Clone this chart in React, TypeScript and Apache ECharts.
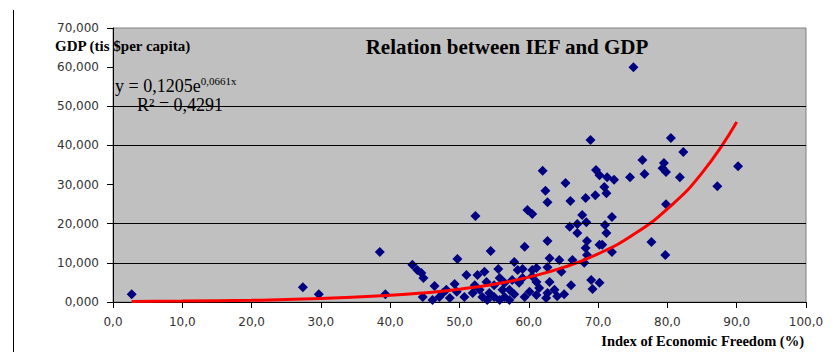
import React, { useEffect, useRef } from "react";
import * as echarts from "echarts";

// Index of Economic Freedom (%) for each country
const IEF: number[] = [
  2.7, 27.4, 29.7, 38.5, 39.3, 43.2, 43.9, 44.5, 44.8, 44.7,
  46.1, 46.4, 47.6, 48.1, 48.6, 49.3, 49.7, 51.0, 52.3, 51.9,
  52.6, 52.9, 53.3, 53.6, 53.9, 54.3, 54.5, 55.0, 55.6, 55.8,
  56.2, 56.5, 57.9, 57.6, 58.4, 59.1, 59.1, 58.6, 59.4, 59.4,
  59.8, 60.5, 60.1, 60.5, 60.5, 61.1, 61.1, 61.1, 62.0, 62.4,
  62.7, 62.7, 62.7, 63.0, 63.0, 62.5, 62.7, 64.4, 64.7, 64.1,
  65.3, 66.0, 65.9, 66.3, 66.1, 67.0, 67.0, 67.7, 68.2, 68.3,
  68.4, 68.2, 68.4, 68.0, 68.9, 69.0, 69.2, 69.6, 69.7, 70.2,
  70.2, 70.2, 70.6, 70.9, 71.2, 71.0, 71.2, 71.3, 72.0, 72.0,
  72.3, 74.6, 75.1, 76.4, 76.7, 77.7, 79.3, 79.5, 79.8, 79.8,
  79.7, 80.5, 81.8, 82.3, 87.2, 90.2,
  57.2, 50.7, 52.2, 54.0, 55.8, 57.2, 61.5, 63.7, 65.1, 49.6,
  47.1, 55.0, 56.5, 57.9,
];
// GDP (thousand $ per capita)
const GDP: number[] = [
  2.0, 3.8, 2.0, 12.8, 2.0, 9.5, 8.2, 7.4, 6.1, 1.3,
  0.5, 4.1, 2.3, 3.1, 1.0, 4.6, 11.0, 6.9, 22.0, 2.3,
  6.9, 3.1, 1.3, 7.7, 5.1, 2.3, 13.0, 1.3, 8.4, 6.1,
  3.1, 1.3, 2.0, 5.6, 8.2, 8.4, 6.1, 4.9, 14.1, 1.3,
  23.5, 22.5, 2.6, 8.2, 6.6, 8.7, 5.1, 1.8, 33.5, 28.4,
  25.5, 15.6, 8.9, 11.2, 5.1, 1.0, 2.3, 10.7, 7.7, 1.5,
  30.4, 25.8, 19.2, 10.7, 4.3, 19.9, 17.6, 22.2, 26.6, 20.4,
  15.6, 13.8, 12.0, 10.0, 41.4, 5.6, 3.3, 27.3, 33.7, 32.4,
  14.6, 4.9, 14.6, 29.4, 27.8, 19.7, 17.6, 31.9, 21.7, 12.8,
  31.2, 31.9, 60.0, 36.3, 32.7, 15.3, 34.2, 35.5, 33.2, 25.0,
  12.0, 41.9, 31.9, 38.3, 29.6, 34.7,
  3.1, 1.3, 4.3, 0.5, 0.5, 0.5, 3.6, 3.1, 2.0, 2.6,
  1.3, 4.3, 4.9, 10.2,
];

// Exponential trendline (y = 0,1205e^0,0661x)
const TREND_X: number[] = [2.7, 10, 20, 30, 40, 45, 50, 55, 60, 65, 70, 75, 80, 85, 90];
const TREND_Y: number[] = [0.14, 0.23, 0.45, 0.88, 1.7, 2.35, 3.28, 4.56, 6.35, 8.83, 12.3, 17.1, 23.8, 33.0, 46.0];

// Horizontal gridlines visible in the reference
const GRID_LINES: number[] = [10, 20, 40, 50];

const TITLE = "Relation between IEF and GDP";
const Y_NAME = "GDP (tis $per capita)";
const X_NAME = "Index of Economic Freedom (%)";
const EQUATION = "y = 0,1205e";
const EQUATION_EXP = "0,0661x";
const R_SQUARED = "R² = 0,4291";

const SERIF = "'Liberation Serif', 'DejaVu Serif', serif";
const SANS = "'DejaVu Sans', 'Liberation Sans', sans-serif";

export default function App() {
  const ref = useRef<HTMLDivElement>(null);

  useEffect(() => {
    if (!ref.current) return;
    const chart = echarts.init(ref.current, undefined, { renderer: "svg" });
    const points = IEF.map((x, i) => [x, GDP[i]]);
    const trend = TREND_X.map((x, i) => [x, TREND_Y[i]]);

    chart.setOption({
      animation: false,
      backgroundColor: "#ffffff",
      grid: {
        left: 113,
        right: 34,
        top: 28,
        bottom: 50,
        show: true,
        backgroundColor: "#C0C0C0",
        borderColor: "#808080",
        borderWidth: 1,
      },
      xAxis: {
        type: "value",
        min: 0,
        max: 100,
        interval: 10,
        axisLine: { show: true, onZero: false, lineStyle: { color: "#000", width: 1 } },
        axisTick: { show: true, length: 6, lineStyle: { color: "#000" } },
        splitLine: { show: false },
        axisLabel: {
          margin: 14,
          color: "#333",
          fontFamily: SANS,
          fontSize: 12,
          formatter: (v: number) => v.toFixed(1).replace(".", ","),
        },
      },
      yAxis: {
        type: "value",
        min: 0,
        max: 70,
        interval: 10,
        axisLine: { show: true, onZero: false, lineStyle: { color: "#000", width: 1 } },
        axisTick: { show: true, length: 6, lineStyle: { color: "#000" } },
        splitLine: { show: false },
        axisLabel: {
          margin: 14,
          color: "#333",
          fontFamily: SANS,
          fontSize: 12,
          formatter: (v: number) => v.toFixed(3).replace(".", ","),
        },
      },
      series: [
        {
          type: "scatter",
          data: [],
          z: 1,
          silent: true,
          markLine: {
            silent: true,
            symbol: "none",
            label: { show: false },
            lineStyle: { color: "#000", width: 1, type: "solid" },
            data: GRID_LINES.map((v) => ({ yAxis: v })),
          },
        },
        {
          type: "scatter",
          data: points,
          symbol: "diamond",
          symbolSize: 10,
          itemStyle: { color: "#000080", opacity: 1 },
          z: 2,
        },
        {
          type: "line",
          data: trend,
          smooth: true,
          showSymbol: false,
          lineStyle: { color: "#FF0000", width: 3 },
          z: 3,
        },
      ],
      graphic: [
        {
          type: "line",
          shape: { x1: 13.5, y1: 10, x2: 13.5, y2: 352 },
          style: { stroke: "#000", lineWidth: 1 },
        },
        {
          type: "text",
          x: 507,
          y: 47,
          z: 10,
          style: {
            text: TITLE,
            align: "center",
            verticalAlign: "middle",
            font: `bold 21px ${SERIF}`,
            fill: "#000",
          },
        },
        {
          type: "text",
          x: 55,
          y: 46,
          z: 10,
          style: {
            text: Y_NAME,
            align: "left",
            verticalAlign: "middle",
            font: `bold 15px ${SERIF}`,
            fill: "#000",
          },
        },
        {
          type: "text",
          x: 115,
          y: 75,
          z: 10,
          style: {
            text: `{a|${EQUATION}}{b|${EQUATION_EXP}}`,
            align: "left",
            verticalAlign: "top",
            fill: "#000",
            rich: {
              a: { fontFamily: SERIF, fontSize: 18, lineHeight: 20, verticalAlign: "bottom", fill: "#000" },
              b: { fontFamily: SERIF, fontSize: 11, lineHeight: 12, verticalAlign: "top", fill: "#000" },
            },
          },
        },
        {
          type: "text",
          x: 137,
          y: 105,
          z: 10,
          style: {
            text: R_SQUARED,
            align: "left",
            verticalAlign: "middle",
            font: `18px ${SERIF}`,
            fill: "#000",
          },
        },
        {
          type: "text",
          x: 804,
          y: 341,
          z: 10,
          style: {
            text: X_NAME,
            align: "right",
            verticalAlign: "middle",
            font: `bold 14.5px ${SERIF}`,
            fill: "#000",
          },
        },
      ],
    });
    return () => chart.dispose();
  }, []);

  return (
    <div
      ref={ref}
      style={{ position: "fixed", left: 0, top: 0, width: 840, height: 352 }}
    />
  );
}
